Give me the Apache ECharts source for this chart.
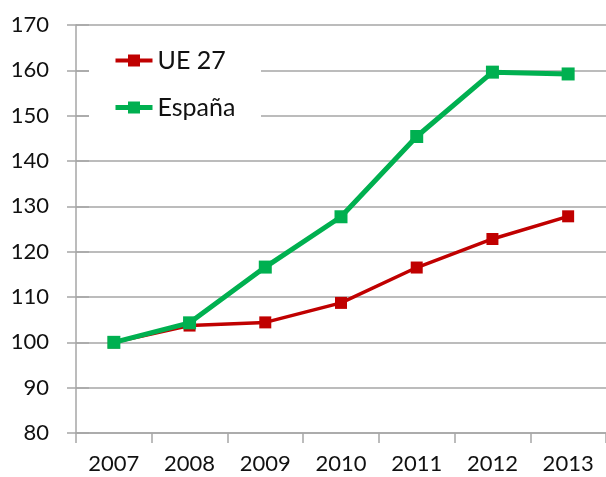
<!DOCTYPE html>
<html>
<head>
<meta charset="utf-8">
<script src="https://cdn.jsdelivr.net/npm/echarts@6/dist/echarts.min.js"></script>
<style>
  html, body { margin: 0; padding: 0; background: #fff; }
  #main { width: 606px; height: 477px; }
</style>
</head>
<body>
<div id="main"></div>
<script>
// años
var years = ['2007', '2008', '2009', '2010', '2011', '2012', '2013'];
// índice 2007 = 100
var ue27 = [100, 103.7, 104.4, 108.7, 116.5, 122.8, 127.8];
var espana = [100, 104.3, 116.6, 127.7, 145.4, 159.6, 159.2];
var yTicks = { min: 80, max: 170, step: 10 };

var gray = '#a6a6a6';
var txt = '#111';
var font = 'Lato';
var red = '#c00000';
var green = '#00b050';

var chart = echarts.init(document.getElementById('main'));
var option = {
    animation: false,
    backgroundColor: '#fff',
    grid: { left: 76, right: 0, top: 25, bottom: 44 },
    // fondo blanco de la leyenda (tapa las líneas de división)
    graphic: [{
        type: 'rect',
        z: 3,
        shape: { x: 89, y: 35, width: 172, height: 95 },
        style: { fill: '#fff' }
    }],
    legend: {
        orient: 'vertical',
        left: 108,
        top: 43,
        z: 5,
        itemWidth: 37,
        itemHeight: 15,
        itemGap: 22,
        textStyle: { fontFamily: font, fontSize: 25, color: txt, lineHeight: 25 },
        data: [
            { name: 'UE 27', lineStyle: { width: 4, color: red } },
            { name: 'España', lineStyle: { width: 5, color: green } }
        ]
    },
    xAxis: {
        type: 'category',
        data: years,
        boundaryGap: true,
        axisLine: { lineStyle: { color: gray, width: 1.5 } },
        axisTick: { show: true, length: 10, lineStyle: { color: gray, width: 1.5 } },
        axisLabel: { fontFamily: font, fontSize: 22, color: txt, margin: 20 }
    },
    yAxis: [{
        type: 'value',
        min: yTicks.min,
        max: yTicks.max,
        interval: yTicks.step,
        axisLine: { show: true, lineStyle: { color: gray, width: 1.5 } },
        axisTick: { show: true, length: 9, lineStyle: { color: gray, width: 1.5 } },
        splitLine: { lineStyle: { color: gray, width: 1.5 } },
        axisLabel: { fontFamily: font, fontSize: 22, color: txt, margin: 27 }
    }, {
        // marcas interiores (cruzan el eje)
        type: 'value',
        position: 'left',
        min: yTicks.min,
        max: yTicks.max,
        interval: yTicks.step,
        axisLine: { show: false },
        axisTick: { show: true, inside: true, length: 13, lineStyle: { color: gray, width: 1.5 } },
        splitLine: { show: false },
        axisLabel: { show: false }
    }],
    series: [{
        name: 'UE 27',
        type: 'line',
        data: ue27,
        symbol: 'rect',
        symbolSize: 12,
        z: 6,
        itemStyle: { color: red },
        lineStyle: { color: red, width: 3.5 }
    }, {
        name: 'España',
        type: 'line',
        data: espana,
        symbol: 'rect',
        symbolSize: 13,
        z: 7,
        itemStyle: { color: green },
        lineStyle: { color: green, width: 5 }
    }]
};
chart.setOption(option);
</script>
</body>
</html>
